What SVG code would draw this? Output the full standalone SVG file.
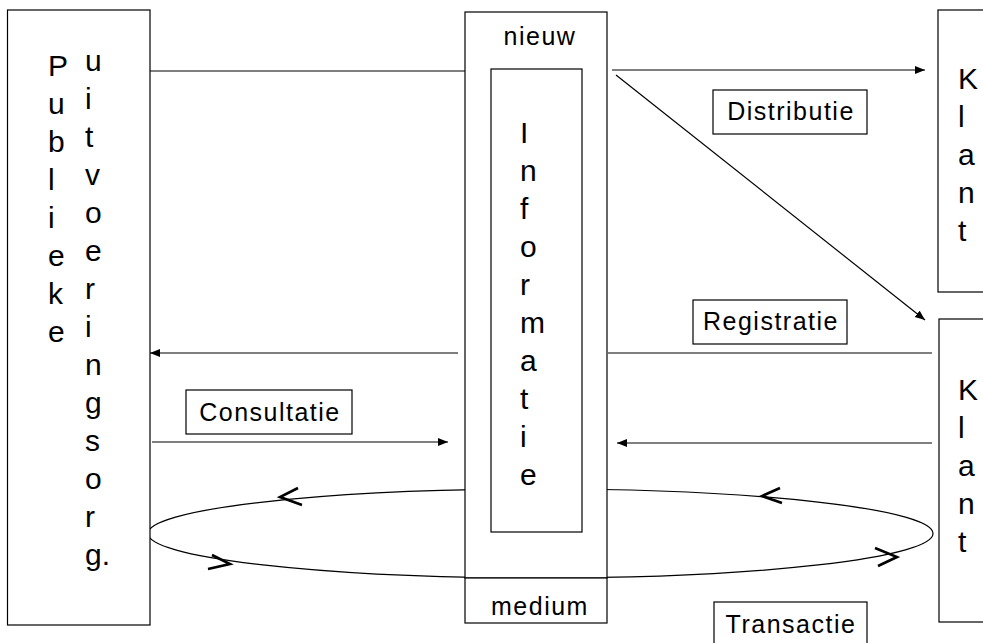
<svg xmlns="http://www.w3.org/2000/svg" width="983" height="643" viewBox="0 0 983 643">
<style>
.box{fill:#fff;stroke:#000;stroke-width:1.2}
.ln{fill:none;stroke:#000;stroke-width:1.2}
.chev{fill:none;stroke:#000;stroke-width:2.6;stroke-linejoin:miter}
.big{font-family:"Liberation Sans",Arial,sans-serif;font-size:30px;fill:#000}
.lbl{font-family:"Liberation Sans",Arial,sans-serif;font-size:25px;letter-spacing:1.5px;fill:#000}
</style>
<defs>
<marker id="arr" markerUnits="userSpaceOnUse" markerWidth="11" markerHeight="9" refX="10" refY="4" orient="auto">
<path d="M0,0 L10,4 L0,8 z" fill="#000"/>
</marker>
</defs>
<rect width="983" height="643" fill="#fff"/>
<g id="connectors">
<ellipse class="ln" cx="540.5" cy="533.5" rx="392.5" ry="44.5"/>
<polyline class="chev" points="298,488 280,497 302,505"/>
<polyline class="chev" points="780,488 762,496 782,503"/>
<polyline class="chev" points="212,555 230,564 208,569"/>
<polyline class="chev" points="875,548 897,557 878,566"/>
<line class="ln" x1="150" y1="71" x2="465" y2="71"/>
<line class="ln" x1="612" y1="70" x2="925" y2="70" marker-end="url(#arr)"/>
<line class="ln" x1="616" y1="75" x2="925" y2="320" marker-end="url(#arr)"/>
<line class="ln" x1="932" y1="353" x2="608" y2="353"/>
<line class="ln" x1="458" y1="353" x2="150" y2="353" marker-end="url(#arr)"/>
<line class="ln" x1="932" y1="443" x2="617" y2="443" marker-end="url(#arr)"/>
<line class="ln" x1="152" y1="442" x2="448" y2="442" marker-end="url(#arr)"/>
</g>
<g id="publieke-uitvoeringsorg">
<rect class="box" x="7.5" y="10" width="142.5" height="615"/>
<text class="big" x="48" y="76"><tspan x="48" y="76">P</tspan><tspan x="48" y="114">u</tspan><tspan x="48" y="152">b</tspan><tspan x="48" y="190">l</tspan><tspan x="48" y="228">i</tspan><tspan x="48" y="266">e</tspan><tspan x="48" y="304">k</tspan><tspan x="48" y="342">e</tspan></text>
<text class="big" x="85" y="71"><tspan x="85" y="71">u</tspan><tspan x="85" y="109">i</tspan><tspan x="85" y="147">t</tspan><tspan x="85" y="185">v</tspan><tspan x="85" y="223">o</tspan><tspan x="85" y="261">e</tspan><tspan x="85" y="299">r</tspan><tspan x="85" y="337">i</tspan><tspan x="85" y="375">n</tspan><tspan x="85" y="413">g</tspan><tspan x="85" y="451">s</tspan><tspan x="85" y="489">o</tspan><tspan x="85" y="527">r</tspan><tspan x="85" y="565">g.</tspan></text>
</g>
<g id="nieuw-informatie-medium">
<rect class="box" x="465" y="12" width="142" height="566"/>
<rect class="box" x="465" y="578" width="142" height="45"/>
<rect class="box" x="491" y="69" width="91" height="463"/>
<text class="lbl" x="540" y="45" text-anchor="middle">nieuw</text>
<text class="lbl" x="540" y="615" text-anchor="middle">medium</text>
<text class="big" x="520" y="143"><tspan x="520" y="143">I</tspan><tspan x="520" y="181">n</tspan><tspan x="520" y="219">f</tspan><tspan x="520" y="257">o</tspan><tspan x="520" y="295">r</tspan><tspan x="520" y="333">m</tspan><tspan x="520" y="371">a</tspan><tspan x="520" y="409">t</tspan><tspan x="520" y="447">i</tspan><tspan x="520" y="485">e</tspan></text>
</g>
<g id="klant-top">
<rect class="box" x="938" y="10" width="60" height="282"/>
<text class="big" x="958" y="89"><tspan x="958" y="89">K</tspan><tspan x="958" y="127">l</tspan><tspan x="958" y="165">a</tspan><tspan x="958" y="203">n</tspan><tspan x="958" y="241">t</tspan></text>
</g>
<g id="klant-bottom">
<rect class="box" x="939" y="319" width="60" height="303"/>
<text class="big" x="958" y="400"><tspan x="958" y="400">K</tspan><tspan x="958" y="438">l</tspan><tspan x="958" y="476">a</tspan><tspan x="958" y="514">n</tspan><tspan x="958" y="552">t</tspan></text>
</g>
<g id="label-distributie">
<rect class="box" x="713" y="90" width="154" height="44"/>
<text class="lbl" x="791" y="120" text-anchor="middle">Distributie</text>
</g>
<g id="label-registratie">
<rect class="box" x="693" y="300" width="154" height="44"/>
<text class="lbl" x="771" y="330" text-anchor="middle">Registratie</text>
</g>
<g id="label-consultatie">
<rect class="box" x="186" y="390" width="166" height="44"/>
<text class="lbl" x="270" y="421" text-anchor="middle">Consultatie</text>
</g>
<g id="label-transactie">
<rect class="box" x="714" y="602" width="153" height="44"/>
<text class="lbl" x="791" y="633" text-anchor="middle">Transactie</text>
</g>
</svg>
